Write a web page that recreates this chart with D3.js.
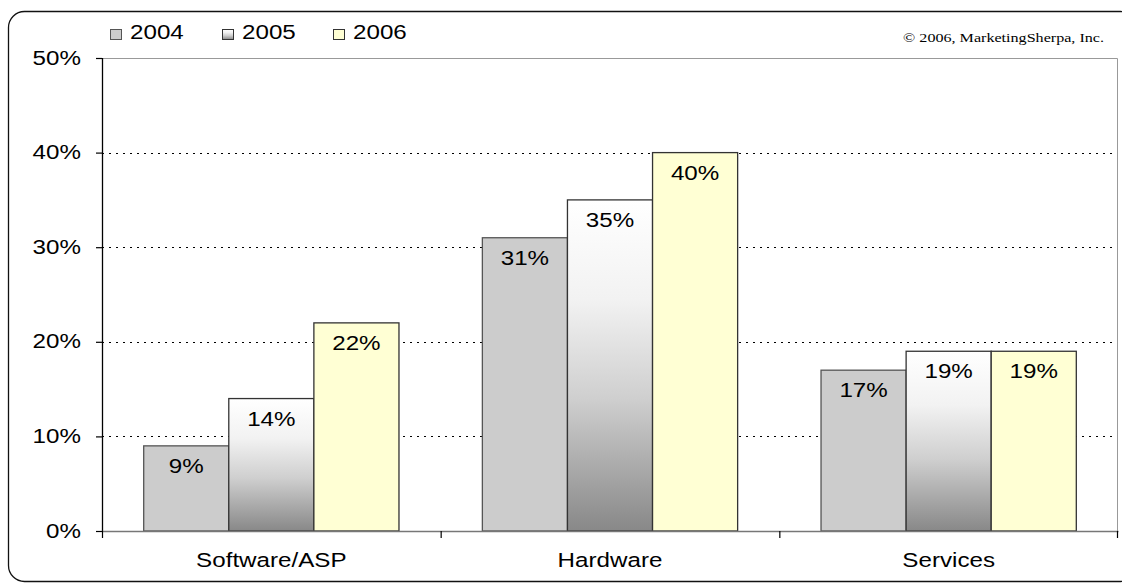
<!DOCTYPE html>
<html>
<head>
<meta charset="utf-8">
<script src="https://cdn.jsdelivr.net/npm/d3@7"></script>
<style>
  html, body { margin: 0; padding: 0; background: #fff; }
  svg { display: block; font-family: "Liberation Sans", Arial, sans-serif; }
</style>
</head>
<body>
<svg id="chart" width="1122" height="584"></svg>
<script>
// Share of spend by category, per year
const categories = ["Software/ASP", "Hardware", "Services"];
const years = ["2004", "2005", "2006"];
const values2004 = [9, 31, 17];
const values2005 = [14, 35, 19];
const values2006 = [22, 40, 19];
const yTicks = [0, 10, 20, 30, 40, 50];

const seriesValues = [values2004, values2005, values2006];

const svg = d3.select("#chart");
const W = 1122, H = 584;
const margin = { top: 58, right: 4, bottom: 53, left: 102 };
const plotW = W - margin.left - margin.right;
const plotH = H - margin.top - margin.bottom;

// Text is set slightly wide
const SX = 1.24;
const FS = 19.5;
function wideText(sel, x, y) {
  sel.attr("x", 0).attr("y", 0)
    .attr("transform", `translate(${x},${y}) scale(${SX},1)`);
  return sel;
}

// Fills
const defs = svg.append("defs");
const grad = defs.append("linearGradient")
  .attr("id", "silver").attr("x1", 0).attr("y1", 0).attr("x2", 0).attr("y2", 1);
[[0, "#ffffff"], [0.3, "#f2f2f2"], [0.6, "#cfcfcf"], [1, "#888888"]].forEach(([o, c]) =>
  grad.append("stop").attr("offset", o).attr("stop-color", c));

const fills = ["#cccccc", "url(#silver)", "#ffffd4"];
const strokes = ["#555555", "#333333", "#333333"];

// Rounded frame
svg.append("rect")
  .attr("x", 8.5).attr("y", 11.5).attr("width", 1128).attr("height", 570)
  .attr("rx", 16).attr("ry", 16)
  .attr("fill", "none").attr("stroke", "#111").attr("stroke-width", 1.3);

const g = svg.append("g").attr("transform", `translate(${margin.left},${margin.top})`);

const x0 = d3.scaleBand().domain(categories).range([0, plotW]).paddingInner(0).paddingOuter(0);
const x1 = d3.scaleBand().domain(years).range([0, x0.bandwidth()]).paddingInner(0).paddingOuter(0.49);
const y = d3.scaleLinear().domain([0, 50]).range([plotH, 0]);

// Gridlines
g.append("g").selectAll("line").data(yTicks.filter(t => t > 0 && t < 50)).join("line")
  .attr("x1", 0).attr("x2", plotW)
  .attr("y1", d => Math.round(y(d)) + 0.5).attr("y2", d => Math.round(y(d)) + 0.5)
  .attr("stroke", "#000").attr("stroke-width", 1).attr("stroke-dasharray", "2,5");

// Plot-area border (top and right)
g.append("path")
  .attr("d", `M0,${Math.round(y(50)) + 0.5}H${plotW - 0.5}V${plotH}`)
  .attr("fill", "none").attr("stroke", "#999").attr("stroke-width", 1);

// Bars
const groups = g.append("g").selectAll("g").data(categories).join("g")
  .attr("transform", d => `translate(${x0(d)},0)`);

groups.each(function (cat, ci) {
  const gg = d3.select(this);
  years.forEach((yr, si) => {
    const v = seriesValues[si][ci];
    gg.append("rect")
      .attr("x", x1(yr)).attr("y", y(v))
      .attr("width", x1.bandwidth()).attr("height", plotH - y(v))
      .attr("fill", fills[si]).attr("stroke", strokes[si]).attr("stroke-width", 1.3);
    gg.append("text")
      .attr("text-anchor", "middle").attr("font-size", FS).attr("fill", "#000")
      .text(v + "%")
      .call(wideText, x1(yr) + x1.bandwidth() / 2, y(v) + 27);
  });
});

// Y axis
const yAxis = g.append("g").call(
  d3.axisLeft(y).tickValues(yTicks).tickFormat(d => d + "%").tickSize(6));
yAxis.select(".domain").attr("stroke", "#000").attr("stroke-width", 1.3).attr("d", `M0.5,${plotH}V0`);
yAxis.selectAll(".tick line").attr("stroke", "#000").attr("stroke-width", 1.2);
yAxis.selectAll(".tick text")
  .attr("font-size", FS).attr("fill", "#000")
  .attr("font-family", "Liberation Sans, Arial, sans-serif")
  .attr("dy", null)
  .call(wideText, -21, 6);

// X axis
const xAxis = g.append("g").attr("transform", `translate(0,${plotH})`)
  .call(d3.axisBottom(x0).tickSize(0));
xAxis.select(".domain").attr("stroke", "#777").attr("stroke-width", 1.5);
xAxis.selectAll(".tick text")
  .attr("font-size", FS).attr("fill", "#000")
  .attr("font-family", "Liberation Sans, Arial, sans-serif")
  .attr("dy", null)
  .call(wideText, 0, 36);
// Category boundary ticks
g.append("g").selectAll("line").data(d3.range(categories.length + 1)).join("line")
  .attr("x1", i => i * x0.bandwidth() + (i === categories.length ? -0.5 : 0.5))
  .attr("x2", i => i * x0.bandwidth() + (i === categories.length ? -0.5 : 0.5))
  .attr("y1", plotH).attr("y2", plotH + 7)
  .attr("stroke", "#000").attr("stroke-width", 1.2);

// Legend
const legendX = [110, 222, 333];
const legend = svg.append("g").selectAll("g").data(years).join("g")
  .attr("transform", (d, i) => `translate(${legendX[i]},29)`);
legend.append("rect")
  .attr("x", 0.5).attr("y", 0.5).attr("width", 11).attr("height", 10)
  .attr("fill", (d, i) => fills[i]).attr("stroke", (d, i) => strokes[i]).attr("stroke-width", 1);
legend.append("text")
  .attr("font-size", FS).attr("fill", "#000")
  .text(d => d)
  .each(function () { d3.select(this).call(wideText, 20, 10); });

// Copyright note
svg.append("text")
  .attr("text-anchor", "end")
  .attr("font-family", "Liberation Serif, Times New Roman, serif")
  .attr("font-size", 13).attr("fill", "#000")
  .text("© 2006, MarketingSherpa, Inc.")
  .call(wideText, 1104, 42);
</script>
</body>
</html>
